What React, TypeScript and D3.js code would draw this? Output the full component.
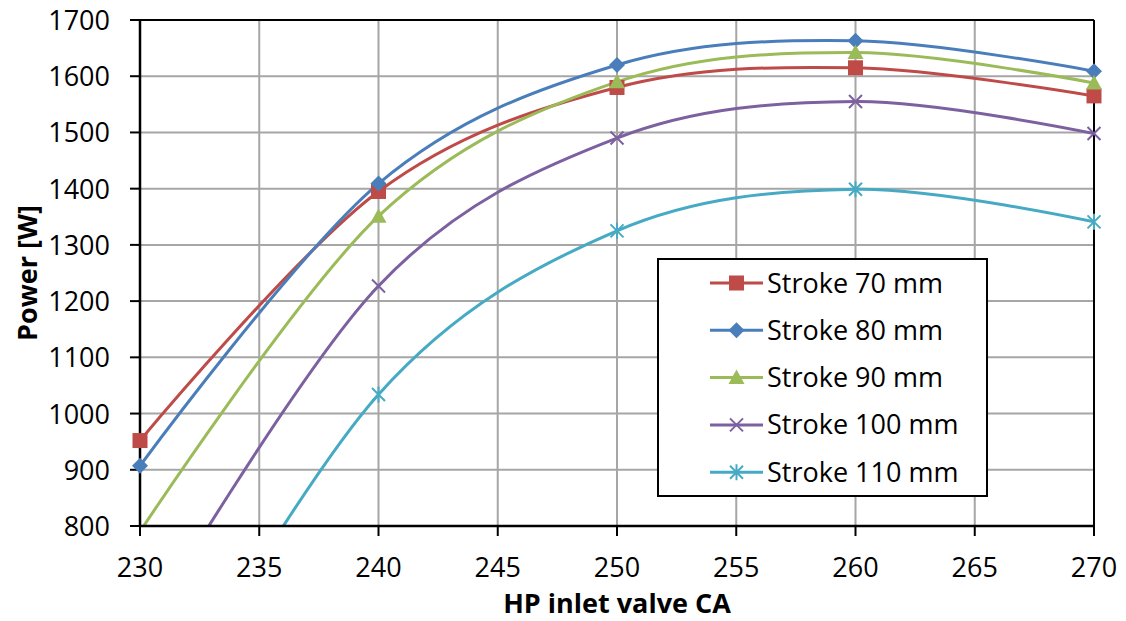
import React from "react";
import * as d3 from "d3";

const xValues = [230, 240, 250, 260, 270];
const stroke70 = [952, 1395, 1580, 1615, 1565];
const stroke80 = [907, 1409, 1620, 1663, 1609];
const stroke90 = [790, 1351, 1590, 1642, 1588];
const stroke100 = [600, 1227, 1490, 1555, 1498];
const stroke110 = [380, 1034, 1325, 1399, 1341];
const seriesNames = ["Stroke 70 mm", "Stroke 80 mm", "Stroke 90 mm", "Stroke 100 mm", "Stroke 110 mm"];
const seriesColors = ["#BE4B48", "#4A7EBB", "#9BBB59", "#7D60A0", "#46AAC5"];
const seriesMarkers = ["square", "diamond", "triangle", "x", "star"];
const xTicks = [230, 235, 240, 245, 250, 255, 260, 265, 270];
const yTicks = [800, 900, 1000, 1100, 1200, 1300, 1400, 1500, 1600, 1700];

const W = 1126;
const H = 621;
const L = 140, R = 1094, T = 20, B = 526;
const FONT = "'Open Sans', 'DejaVu Sans', sans-serif";

function Marker({ type, x, y, color }: { type: string; x: number; y: number; color: string }) {
  if (type === "square") return <rect x={x - 7.5} y={y - 7.5} width={15} height={15} fill={color} />;
  if (type === "diamond")
    return <path d={`M${x},${y - 8}L${x + 8},${y}L${x},${y + 8}L${x - 8},${y}Z`} fill={color} />;
  if (type === "triangle")
    return <path d={`M${x},${y - 8}L${x + 8},${y + 6.5}L${x - 8},${y + 6.5}Z`} fill={color} />;
  if (type === "x")
    return (
      <path d={`M${x - 6.5},${y - 6.5}L${x + 6.5},${y + 6.5}M${x - 6.5},${y + 6.5}L${x + 6.5},${y - 6.5}`} stroke={color} strokeWidth={2} />
    );
  return (
    <path
      d={`M${x - 6.5},${y - 6.5}L${x + 6.5},${y + 6.5}M${x - 6.5},${y + 6.5}L${x + 6.5},${y - 6.5}M${x},${y - 8}L${x},${y + 8}`}
      stroke={color}
      strokeWidth={2}
    />
  );
}

export default function App() {
  const xScale = d3.scaleLinear().domain([230, 270]).range([L, R]);
  const yScale = d3.scaleLinear().domain([800, 1700]).range([B, T]);
  const allSeries = [stroke70, stroke80, stroke90, stroke100, stroke110];
  const line = d3
    .line<number>()
    .x((_, i) => xScale(xValues[i]))
    .y((d) => yScale(d))
    .curve(d3.curveCardinal.tension(0));

  const legendX = 658, legendY = 259, legendW = 329, legendH = 237;
  const rowY0 = 283, rowStep = 47.3;

  return (
    <svg width={W} height={H} style={{ position: "fixed", left: 0, top: 0, background: "#fff" }} fontFamily={FONT}>
      <defs>
        <clipPath id="plotClip">
          <rect x={L} y={T} width={R - L} height={B - T} />
        </clipPath>
      </defs>
      <rect x={0} y={0} width={W} height={H} fill="#fff" />
      {/* grid */}
      {xTicks.slice(1, -1).map((t) => (
        <line key={"gx" + t} x1={xScale(t)} x2={xScale(t)} y1={T} y2={B} stroke="#A6A6A6" strokeWidth={2} />
      ))}
      {yTicks.slice(1, -1).map((t) => (
        <line key={"gy" + t} x1={L} x2={R} y1={yScale(t)} y2={yScale(t)} stroke="#A6A6A6" strokeWidth={2} />
      ))}
      {/* border top/right */}
      <line x1={L} x2={R} y1={T} y2={T} stroke="#000" strokeWidth={2} />
      <line x1={R} x2={R} y1={T} y2={B} stroke="#000" strokeWidth={2} />
      {/* series lines */}
      <g clipPath="url(#plotClip)">
        {allSeries.map((s, i) => (
          <path key={"l" + i} d={line(s) || ""} fill="none" stroke={seriesColors[i]} strokeWidth={3} />
        ))}
      </g>
      {/* axes */}
      <line x1={L} x2={L} y1={T} y2={B} stroke="#000" strokeWidth={2.5} />
      <line x1={L} x2={R} y1={B} y2={B} stroke="#000" strokeWidth={2.5} />
      {yTicks.map((t) => (
        <g key={"yt" + t}>
          <line x1={L - 10} x2={L} y1={yScale(t)} y2={yScale(t)} stroke="#000" strokeWidth={2} />
          <text x={110} y={yScale(t) + 10} textAnchor="end" fontSize={27} fill="#000">
            {t}
          </text>
        </g>
      ))}
      {xTicks.map((t) => (
        <g key={"xt" + t}>
          <line x1={xScale(t)} x2={xScale(t)} y1={B} y2={B + 10} stroke="#000" strokeWidth={2} />
          <text x={xScale(t)} y={577} textAnchor="middle" fontSize={27} fill="#000">
            {t}
          </text>
        </g>
      ))}
      {/* markers */}
      {allSeries.map((s, i) =>
        s.map((v, j) =>
          v >= 800 && v <= 1700 ? (
            <Marker key={"m" + i + "-" + j} type={seriesMarkers[i]} x={xScale(xValues[j])} y={yScale(v)} color={seriesColors[i]} />
          ) : null
        )
      )}
      {/* axis titles */}
      <text x={(L + R) / 2} y={613} textAnchor="middle" fontSize={27} fontWeight="bold" fill="#000">
        HP inlet valve CA
      </text>
      <text transform={`translate(37,${(T + B) / 2}) rotate(-90)`} textAnchor="middle" fontSize={27} fontWeight="bold" fill="#000">
        Power [W]
      </text>
      {/* legend */}
      <rect x={legendX} y={legendY} width={legendW} height={legendH} fill="#fff" stroke="#000" strokeWidth={2} />
      {seriesNames.map((n, i) => {
        const y = rowY0 + i * rowStep;
        return (
          <g key={"lg" + i}>
            <line x1={710} x2={763} y1={y} y2={y} stroke={seriesColors[i]} strokeWidth={3} />
            <Marker type={seriesMarkers[i]} x={736.5} y={y} color={seriesColors[i]} />
            <text x={767} y={y + 9.5} fontSize={27} fill="#000">
              {n}
            </text>
          </g>
        );
      })}
    </svg>
  );
}
